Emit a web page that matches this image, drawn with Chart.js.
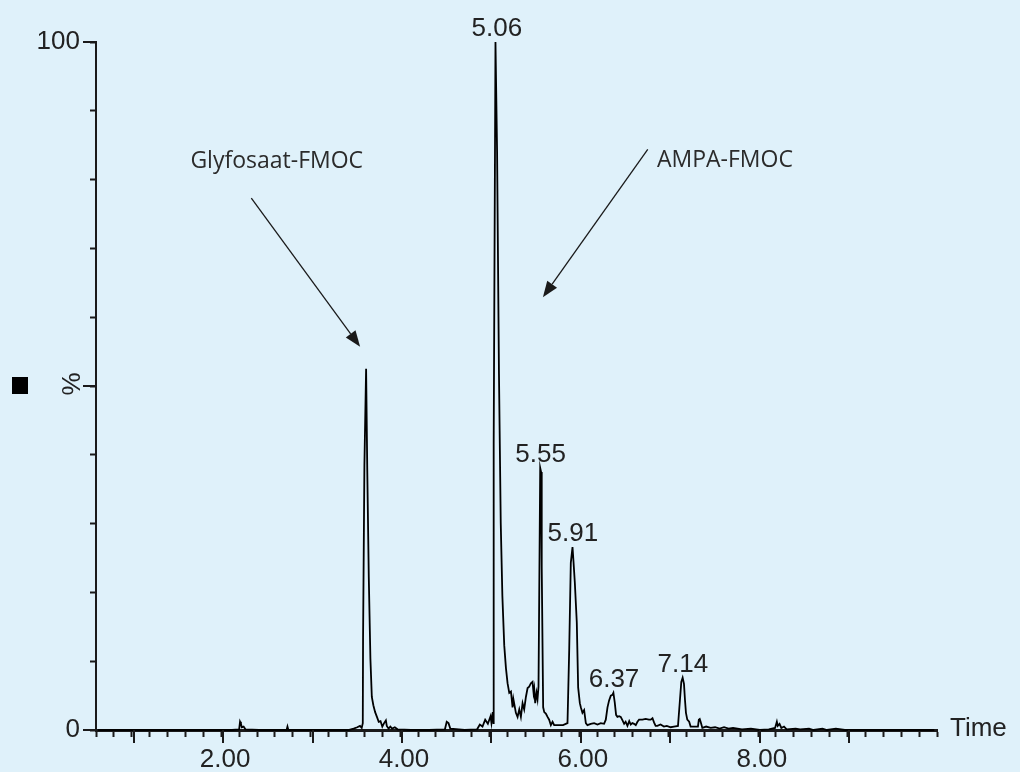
<!DOCTYPE html>
<html>
<head>
<meta charset="utf-8">
<script src="https://cdn.jsdelivr.net/npm/chart.js@4.4.1/dist/chart.umd.min.js"></script>
<style>
  html, body { margin: 0; padding: 0; background: #dff1fa; }
  #wrap { width: 1020px; height: 772px; }
</style>
</head>
<body>
<div id="wrap"><canvas id="mychart" width="1020" height="772"></canvas></div>
<script>
// retention time (min) and intensity (%), ten points per row
const times = [
  0.60, 0.80, 1.00, 1.20, 1.40, 1.60, 1.80, 2.00, 2.10, 2.18,
  2.19, 2.20, 2.21, 2.23, 2.25, 2.40, 2.60, 2.71, 2.72, 2.73,
  3.00, 3.20, 3.40, 3.46, 3.50, 3.53, 3.55, 3.562, 3.565, 3.580,
  3.599, 3.612, 3.629, 3.647, 3.663, 3.68, 3.70, 3.72, 3.74, 3.76,
  3.78, 3.80, 3.82, 3.83, 3.85, 3.87, 3.89, 3.92, 3.95, 4.10,
  4.30, 4.48, 4.50, 4.52, 4.54, 4.70, 4.84, 4.87, 4.90, 4.93,
  4.96, 4.99, 5.00, 5.015, 5.022, 5.025, 5.045, 5.063, 5.084, 5.104,
  5.122, 5.143, 5.162, 5.180, 5.199, 5.218, 5.236, 5.245, 5.255, 5.273,
  5.292, 5.311, 5.329, 5.348, 5.366, 5.385, 5.404, 5.422, 5.441, 5.459,
  5.471, 5.478, 5.489, 5.504, 5.515, 5.526, 5.545, 5.555, 5.562, 5.578,
  5.590, 5.608, 5.627, 5.645, 5.664, 5.683, 5.701, 5.75, 5.80, 5.85,
  5.869, 5.887, 5.906, 5.917, 5.932, 5.954, 5.969, 5.988, 5.999, 6.017,
  6.036, 6.055, 6.073, 6.11, 6.148, 6.185, 6.222, 6.259, 6.278, 6.297,
  6.315, 6.334, 6.352, 6.363, 6.378, 6.393, 6.408, 6.427, 6.445, 6.465,
  6.483, 6.50, 6.52, 6.54, 6.557, 6.575, 6.594, 6.613, 6.632, 6.65,
  6.687, 6.724, 6.76, 6.78, 6.80, 6.817, 6.835, 6.854, 6.89, 6.928,
  6.96, 7.003, 7.04, 7.085, 7.096, 7.107, 7.122, 7.137, 7.152, 7.163,
  7.174, 7.189, 7.21, 7.226, 7.27, 7.308, 7.318, 7.328, 7.338, 7.357,
  7.40, 7.45, 7.50, 7.55, 7.60, 7.65, 7.70, 7.75, 7.80, 7.90,
  8.00, 8.10, 8.17, 8.19, 8.20, 8.22, 8.24, 8.27, 8.30, 8.40,
  8.45, 8.55, 8.60, 8.70, 8.75, 8.85, 8.95, 9.20, 9.50, 9.80,
  9.95
];
const intensity = [
  0, 0, 0, 0, 0, 0, 0, 0, 0, 0.1,
  1.2, 0.9, 0.4, 0.5, 0.1, 0, 0, 0, 0.5, 0,
  0, 0, 0, 0.2, 0.4, 0.6, 0.3, 1.0, 13.4, 38.5,
  52.5, 37.8, 22.2, 10.4, 4.8, 3.6, 2.6, 1.9, 1.2, 1.3,
  0.5, 1.0, 1.4, 0.6, 0.2, 0.5, 0.2, 0.4, 0.1, 0,
  0, 0.1, 1.2, 1.0, 0.2, 0, 0.1, 0.8, 0.5, 1.5,
  0.9, 2.0, 1.0, 2.6, 1.0, 41.6, 100, 84, 51.8, 30,
  19.5, 12.3, 9.0, 6.8, 5.4, 5.6, 3.3, 4.5, 3.8, 2.5,
  1.9, 3.0, 1.9, 3.9, 3.0, 4.8, 6.1, 6.3, 6.8, 7.0,
  5.4, 6.0, 3.9, 5.4, 4.5, 6.3, 38.1, 37.5, 23.7, 3.3,
  2.6, 2.4, 1.9, 1.5, 0.7, 1.2, 0.7, 0.7, 0.7, 1.0,
  11.6, 24.3, 26.6, 24.5, 21.4, 15.6, 6.2, 3.9, 3.3, 2.5,
  2.9, 1.0, 0.7, 0.9, 1.0, 0.8, 1.0, 0.9, 1.5, 3.3,
  4.3, 5.0, 5.1, 5.4, 4.0, 2.2, 1.9, 2.0, 1.9, 1.4,
  0.9, 1.2, 0.6, 1.3, 0.8, 1.0, 0.9, 0.7, 1.2, 1.5,
  1.5, 1.6, 1.5, 1.5, 1.7, 1.1, 0.6, 0.6, 0.8, 0.5,
  0.6, 0.4, 0.5, 0.6, 2.5, 4.4, 7.0, 7.6, 6.7, 4.4,
  2.5, 1.5, 1.2, 0.5, 0.5, 0.5, 1.5, 1.6, 1.2, 0.3,
  0.5, 0.3, 0.4, 0.2, 0.4, 0.2, 0.3, 0.2, 0.1, 0.2,
  0, 0.1, 0.3, 1.2, 0.6, 0.9, 0.3, 0.5, 0.1, 0.2,
  0.1, 0.2, 0, 0.2, 0, 0.2, 0, 0, 0, 0,
  0
];

// labelled peaks
const peakTimes = [5.06, 5.55, 5.91, 6.37, 7.14];
const peakHeights = [100, 38.1, 26.6, 5.4, 7.6];

// axis ticks
const xMajorTicks = [1, 2, 3, 4, 5, 6, 7, 8, 9];
const xTickLabels = [2, 4, 6, 8];
const yMajorTicks = [0, 50, 100];
const yTickLabels = [0, 100];

// annotations: [text, textTime, textValue, tailTime, tailValue, tipTime, tipValue]
const notes = [
  ["Glyfosaat-FMOC", 2.60, 82.6, 2.316, 77.3, 3.532, 55.7],
  ["AMPA-FMOC", 7.61, 82.8, 6.747, 84.4, 5.575, 62.9]
];

const points = times.map((t, i) => ({ x: t, y: intensity[i] }));
const ink = "#1a1a1a";
const axisFont = "26px 'Liberation Sans', Arial, sans-serif";

function isOn(v, list) {
  return list.some(a => Math.abs(a - v) < 1e-6);
}

// background, long ticks, labels, arrows
const extras = {
  id: "extras",
  beforeDraw(chart) {
    const c = chart.ctx;
    c.save();
    c.fillStyle = "#dff1fa";
    c.fillRect(0, 0, chart.width, chart.height);
    c.restore();
  },
  afterDraw(chart) {
    const c = chart.ctx;
    const xs = chart.scales.x;
    const ys = chart.scales.y;
    const area = chart.chartArea;
    c.save();
    c.strokeStyle = ink;
    c.lineWidth = 2;
    xMajorTicks.forEach(v => {
      const px = Math.round(xs.getPixelForValue(v));
      c.beginPath();
      c.moveTo(px, area.bottom);
      c.lineTo(px, area.bottom + 13);
      c.stroke();
    });
    yMajorTicks.forEach(v => {
      const py = Math.round(ys.getPixelForValue(v));
      c.beginPath();
      c.moveTo(area.left - 13, py);
      c.lineTo(area.left, py);
      c.stroke();
    });

    c.fillStyle = "#222";
    c.font = axisFont;
    c.textAlign = "center";
    c.textBaseline = "alphabetic";

    // x tick labels
    xTickLabels.forEach(v => {
      c.fillText(v.toFixed(2), xs.getPixelForValue(v) + 2, area.bottom + 37);
    });

    // peak labels
    peakTimes.forEach((t, i) => {
      c.fillText(t.toFixed(2), xs.getPixelForValue(t), ys.getPixelForValue(peakHeights[i]) - 6);
    });

    // axis words
    c.textAlign = "left";
    c.textBaseline = "middle";
    c.fillText("Time", area.right + 13, area.bottom - 1);
    c.save();
    c.translate(73, ys.getPixelForValue(50) - 2);
    c.rotate(-Math.PI / 2);
    c.textAlign = "center";
    c.fillText("%", 0, 0);
    c.restore();
    c.fillStyle = "#000";
    c.fillRect(12, 377, 16, 17);

    // annotations
    notes.forEach(n => {
      c.fillStyle = "#2b2b2b";
      c.font = "23px 'Open Sans', sans-serif";
      c.textAlign = "center";
      c.textBaseline = "middle";
      c.fillText(n[0], xs.getPixelForValue(n[1]), ys.getPixelForValue(n[2]));
      const x0 = xs.getPixelForValue(n[3]), y0 = ys.getPixelForValue(n[4]);
      const x1 = xs.getPixelForValue(n[5]), y1 = ys.getPixelForValue(n[6]);
      const ang = Math.atan2(y1 - y0, x1 - x0);
      const len = 16, half = 6;
      const bx = x1 - Math.cos(ang) * len, by = y1 - Math.sin(ang) * len;
      c.strokeStyle = "#1a1a1a";
      c.lineWidth = 1.3;
      c.beginPath();
      c.moveTo(x0, y0);
      c.lineTo(bx, by);
      c.stroke();
      c.fillStyle = "#1a1a1a";
      c.beginPath();
      c.moveTo(x1, y1);
      c.lineTo(bx - Math.sin(ang) * half, by + Math.cos(ang) * half);
      c.lineTo(bx + Math.sin(ang) * half, by - Math.cos(ang) * half);
      c.closePath();
      c.fill();
    });
    c.restore();
  }
};

const config = {
  type: "line",
  data: {
    datasets: [{
      data: points,
      borderColor: "#000",
      borderWidth: 1.8,
      pointRadius: 0,
      tension: 0,
      fill: false,
      clip: false
    }]
  },
  options: {
    responsive: false,
    animation: false,
    events: [],
    layout: { padding: { left: 0, right: 83, top: 42, bottom: 0 } },
    plugins: { legend: { display: false }, tooltip: { enabled: false } },
    scales: {
      x: {
        type: "linear",
        min: 0.58,
        max: 9.98,
        afterFit(scale) { scale.height = 42; },
        border: { display: true, color: ink, width: 3 },
        grid: { drawOnChartArea: false, drawTicks: true, tickLength: 7, tickWidth: 2, tickColor: ink },
        ticks: {
          stepSize: 0.2,
          includeBounds: false,
          autoSkip: false,
          maxRotation: 0,
          callback: () => ""
        }
      },
      y: {
        min: 0,
        max: 100,
        afterFit(scale) { scale.width = 96; },
        border: { display: true, color: ink, width: 2 },
        grid: { drawOnChartArea: false, drawTicks: true, tickLength: 6, tickWidth: 2, tickColor: ink },
        ticks: {
          stepSize: 10,
          autoSkip: false,
          padding: 10,
          color: "#222",
          font: { family: "'Liberation Sans', Arial, sans-serif", size: 26 },
          callback: v => isOn(v, yTickLabels) ? String(Math.round(v)) : ""
        }
      }
    }
  },
  plugins: [extras]
};

const mychart = new Chart(document.getElementById("mychart").getContext("2d"), config);
</script>
</body>
</html>
